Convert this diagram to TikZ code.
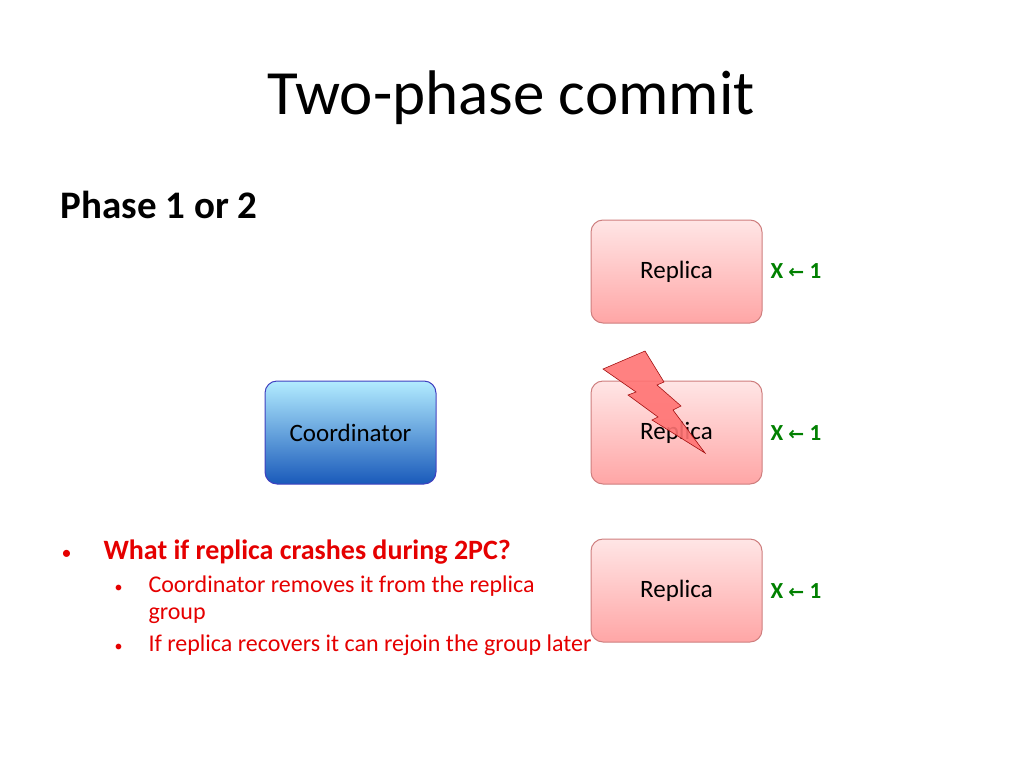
\documentclass[tikz,border=0pt]{standalone}
\usepackage{fontspec}
\setmainfont{Carlito}
\newfontfamily\symf{DejaVu Sans}
\begin{document}
\begin{tikzpicture}[x=1pt,y=-1pt,
 rep/.style={draw=red!45!gray!70,line width=1pt,rounded corners=12pt,top color=red!10,bottom color=red!35,minimum width=171pt,minimum height=103pt,font=\fontsize{25}{30}\selectfont},
 coord/.style={draw=blue!50!gray,line width=1pt,rounded corners=12pt,top color=blue!25!cyan!30,bottom color=blue!60!cyan!70!black!90,minimum width=171pt,minimum height=103pt,font=\fontsize{25}{30}\selectfont},
 val/.style={text=green!50!black,font=\bfseries\fontsize{23}{27}\selectfont,anchor=west},
 red1/.style={text=red!90!black,anchor=west}]
\useasboundingbox (0,0) rectangle (1024,768);
\node (title) at (511,98) {\fontsize{63}{70}\selectfont Two-phase commit};
\node[anchor=west] (ph) at (57,205) {\bfseries\fontsize{39}{44}\selectfont Phase 1 or 2};
\node[rep] (r1) at (676.5,271.5) {Replica};
\node[rep] (r2) at (676.5,432.5) {Replica};
\node[rep] (r3) at (676.5,590.5) {Replica};
\node[coord] (c) at (350.5,432.5) {Coordinator};
\node[val] (v1) at (767,271) {X {\symf\bfseries\fontsize{19}{20}\selectfont ←} 1};
\node[val] (v2) at (767,433) {X {\symf\bfseries\fontsize{19}{20}\selectfont ←} 1};
\node[val] (v3) at (767,591) {X {\symf\bfseries\fontsize{19}{20}\selectfont ←} 1};
\fill[red!55!white,opacity=0.9,draw=red!60!black,line width=0.6pt] (603,369)--(645,351)--(664,382)--(657,385)--(681,406)--(673,410)--(705,453)--(652,420)--(658,417)--(628,395)--(636,392)--cycle;
\node[red1] (b1) at (58,552) {\fontsize{28}{32}\selectfont {\fontsize{20}{20}\selectfont\makebox[42pt][l]{•}}\bfseries What if replica crashes during 2PC?};
\node[red1,align=left,font=\fontsize{24}{27}\selectfont] (b2) at (111,600) {{\fontsize{16}{16}\selectfont\makebox[34pt][l]{•}}Coordinator removes it from the replica\\\hspace*{34pt}group};
\node[red1,font=\fontsize{24}{27}\selectfont] (b3) at (111,645) {{\fontsize{16}{16}\selectfont\makebox[34pt][l]{•}}If replica recovers it can rejoin the group later};
\end{tikzpicture}
\end{document}
